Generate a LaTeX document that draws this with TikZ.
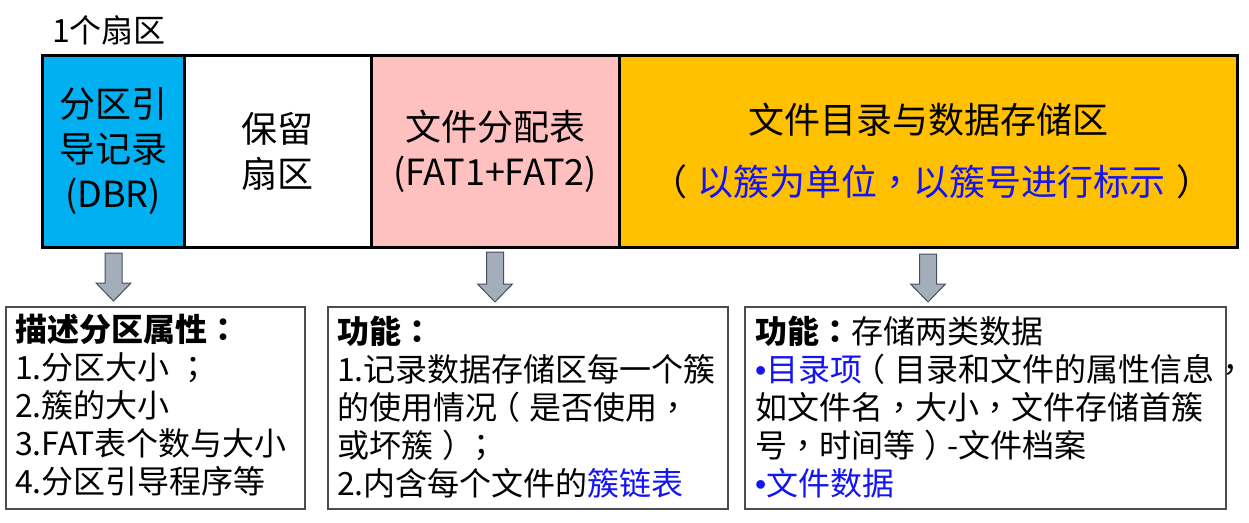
\documentclass[tikz,border=0pt]{standalone}
\usepackage{fontspec}
\setmainfont{Noto Sans CJK SC}
\newfontfamily\tcf{Noto Sans CJK TC}
\newfontfamily\bulf{Liberation Sans}
\newcommand\zcm{{\tcf ，}}
\newcommand\zco{{\tcf ：}}
\newcommand\zsc{{\tcf ；}}
\newcommand\zlp{\hspace{0.22em}\makebox[0pt][c]{（}\hspace{0.78em}}
\newcommand\zrp{\hspace{0.78em}\makebox[0pt][c]{）}\hspace{0.22em}}
\newcommand\zbul{{\bulf •}}
\usetikzlibrary{calc}
\definecolor{dbrblue}{HTML}{00B0F0}
\definecolor{fatpink}{HTML}{FFC0C0}
\definecolor{dataorange}{HTML}{FFC000}
\definecolor{arrowgray}{HTML}{A4AEBA}
\definecolor{arrowline}{HTML}{44505C}
\definecolor{txtblue}{HTML}{1414F5}
\newcommand\blockarr[2]{%
  \draw[blockarrow] ($(#1)+(-8.5,0)$) -- ($(#1)+(8.5,0)$) -- ($(#2)+(8.5,-18)$)
    -- ($(#2)+(17.5,-18)$) -- (#2) -- ($(#2)+(-17.5,-18)$) -- ($(#2)+(-8.5,-18)$) -- cycle;}
\begin{document}
\begin{tikzpicture}[x=1pt,y=-1pt,
  cell/.style={draw=black, line width=3pt, anchor=north west, inner sep=0pt, outer sep=0pt,
    minimum height=192pt, align=center, font=\fontsize{36}{45}\selectfont},
  infobox/.style={draw=black!70, line width=1.4pt, anchor=north west, inner sep=0pt, outer sep=0pt,
    minimum height=202pt},
  infotext/.style={anchor=north west, inner sep=0pt, align=left, font=\fontsize{32}{38}\selectfont},
  blockarrow/.style={draw=arrowline, line width=1pt, fill=arrowgray, line join=miter}
]
\useasboundingbox (0,0) rectangle (1249,522);
\fill[white] (0,0) rectangle (1249,522);

\node[font=\fontsize{32}{38}\selectfont, inner sep=0pt] (title) at (109,30) {1个扇区};

\node[cell, fill=dbrblue, minimum width=142pt] (dbr) at (42,55) {分区引\\导记录\\(DBR)};
\node[cell, fill=white, minimum width=187pt] (res) at (184,55) {保留\\扇区};
\node[cell, fill=fatpink, minimum width=248pt] (fat) at (371,55) {文件分配表\\(FAT1+FAT2)};
\node[cell, fill=dataorange, minimum width=618pt, font=\fontsize{36}{62}\selectfont] (data) at (619,55)
  {文件目录与数据存储区\\\zlp{\color{txtblue}以簇为单位\zcm 以簇号进行标示}\zrp};

\node[infobox, minimum width=299pt] (b1) at (6,307) {};
\node[infobox, minimum width=400pt] (b2) at (328,307) {};
\node[infobox, minimum width=481pt] (b3) at (745,307) {};

\node[infotext] (t1) at ($(b1.north west)+(9,7)$)
  {\textbf{描述分区属性\zco}\\1.分区大小 \zsc\\2.簇的大小\\3.FAT表个数与大小\\4.分区引导程序等};
\node[infotext] (t2) at ($(b2.north west)+(9,9)$)
  {\textbf{功能\zco}\\1.记录数据存储区每一个簇\\的使用情况\zlp 是否使用\zcm\\或坏簇\zrp\zsc\\2.内含每个文件的{\color{txtblue}簇链表}};
\node[infotext] (t3) at ($(b3.north west)+(10,9)$)
  {\textbf{功能\zco}存储两类数据\\{\color{txtblue}\zbul 目录项}\zlp 目录和文件的属性信息\zcm\\如文件名\zcm 大小\zcm 文件存储首簇\\号\zcm 时间等\zrp -文件档案\\{\color{txtblue}\zbul 文件数据}};

\coordinate (a1s) at (113.5,253);
\coordinate (a1e) at (113.5,301);
\coordinate (a2s) at (495,252);
\coordinate (a2e) at (495,302);
\coordinate (a3s) at (928,254);
\coordinate (a3e) at (928,302);
\blockarr{a1s}{a1e}
\blockarr{a2s}{a2e}
\blockarr{a3s}{a3e}
\end{tikzpicture}
\end{document}
